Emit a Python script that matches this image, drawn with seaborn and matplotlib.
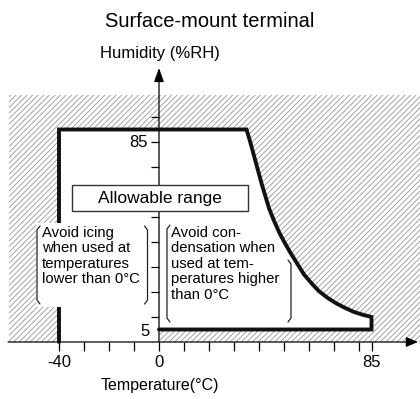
import pandas as pd
import seaborn as sns
import matplotlib.pyplot as plt
from matplotlib.patches import Rectangle

# boundary of the allowable range: temperature (degC) and humidity (%RH)
boundary_temp = [-40, -40, 35, 36.5, 38, 39.5, 41, 42.5, 44, 46, 48, 50, 52.5,
                 55, 58, 61, 64, 67.5, 71, 74.5, 78, 81.5, 85, 85, 0]
boundary_rh = [0, 85, 85, 80, 74.5, 69, 63.5, 58.5, 53.5, 48.5, 44, 40.2, 35.8,
               31.8, 27, 23.5, 20.3, 17.6, 15.4, 13.6, 12, 10.9, 10, 5, 5]

xtick_pos = [-40, -30, -20, -10, 0, 10, 20, 30, 40, 50, 60, 70, 80, 85]
xtick_labels = ['-40', '', '', '', '0', '', '', '', '', '', '', '', '', '85']
ytick_pos = [10, 20, 30, 40, 50, 60, 70, 80, 90]

title = 'Surface-mount terminal'
ylabel = 'Humidity (%RH)'
xlabel = 'Temperature(°C)'
range_label = 'Allowable range'
icing_note = 'Avoid icing\nwhen used at\ntemperatures\nlower than 0°C'
cond_note = 'Avoid con-\ndensation when\nused at tem-\nperatures higher\nthan 0°C'

sns.set_theme(style='white')
plt.rcParams['font.family'] = ['Liberation Sans', 'DejaVu Sans']
plt.rcParams['hatch.linewidth'] = 0.55
plt.rcParams['lines.solid_joinstyle'] = 'miter'

fig = plt.figure(figsize=(4.2, 3.99), dpi=100)
ax = fig.add_axes([0, 0, 1, 1])
ax.set_xlim(-63.6, 104.4)
ax.set_ylim(-22.8, 136.8)

# hatched "avoid" area, then the white allowable region on top
ax.add_patch(Rectangle((-60, 0), 170, 99, facecolor='white', edgecolor='#8c8c8c',
                       lw=0, hatch='//////', zorder=0.5))
ax.fill(boundary_temp + [0], boundary_rh + [0], color='white', zorder=1)

df = pd.DataFrame({'temp': boundary_temp, 'rh': boundary_rh})
sns.lineplot(data=df, x='temp', y='rh', sort=False, estimator=None,
             color='#111111', lw=2.8, ax=ax, zorder=4)
ax.set(xlabel='', ylabel='')

# axes drawn as arrows through the origin
for s in ax.spines.values():
    s.set_visible(False)
ax.spines['bottom'].set_position(('data', 0))
ax.spines['left'].set_position(('data', 0))
ax.set_axisbelow(False)
ax.annotate('', xy=(103.6, 0), xytext=(-60.4, 0),
            arrowprops=dict(arrowstyle='-|>,head_length=0.6,head_width=0.25',
                            color='black', lw=0.9, shrinkA=0, shrinkB=0,
                            mutation_scale=12), zorder=3)
ax.annotate('', xy=(0, 109.6), xytext=(0, 0),
            arrowprops=dict(arrowstyle='-|>,head_length=0.7,head_width=0.25',
                            color='black', lw=0.9, shrinkA=0, shrinkB=0,
                            mutation_scale=12), zorder=3)

ax.set_xticks(xtick_pos)
ax.set_xticklabels(xtick_labels)
ax.set_yticks(ytick_pos)
ax.tick_params(axis='x', bottom=True, direction='out', length=6.5, width=0.9,
               color='black', pad=3, labelsize=12, labelcolor='black')
ax.tick_params(axis='y', left=True, direction='out', length=5.5, width=0.9,
               color='black', labelleft=False)

ax.text(20.4, 125.9, title, ha='center', va='baseline', fontsize=14.5, color='black')
ax.text(0.2, 113.6, ylabel, ha='center', va='baseline', fontsize=12, color='black')
ax.text(0.4, -19.2, xlabel, ha='center', va='baseline', fontsize=11.5, color='black')
ax.text(-4.3, 80, '85', ha='right', va='center', fontsize=12, color='black')
ax.text(-3.9, 4.4, '5', ha='right', va='center', fontsize=12, color='black')

# allowable range label box
ax.add_patch(Rectangle((-34.9, 52.4), 70.4, 10.4, facecolor='white',
                       edgecolor='#333333', lw=1, zorder=5))
ax.text(0.4, 57.6, range_label, ha='center', va='center', fontsize=12.5,
        color='black', zorder=6)


def bracket(x, top, bottom, side):
    d = 1.2 * side
    ax.plot([x + d, x, x, x + d], [top, top - 1.6, bottom + 1.6, bottom],
            color='#222222', lw=0.9, zorder=6)


# notes in brackets
ax.add_patch(Rectangle((-49.2, 14.1), 44.8, 33.6, facecolor='white',
                       edgecolor='none', zorder=5))
ax.text(-46.9, 46.6, icing_note, ha='left', va='top', fontsize=10.7,
        linespacing=1.15, color='black', zorder=6)
bracket(-48.8, 46.4, 15.2, 1)
bracket(-4.6, 46.4, 15.2, -1)

ax.text(4.7, 46.6, cond_note, ha='left', va='top', fontsize=10.7,
        linespacing=1.15, color='black', zorder=6)
bracket(3.2, 46.8, 8.0, 1)
bracket(52.8, 32.8, 8.0, -1)

fig.savefig('out.png', dpi=100)
